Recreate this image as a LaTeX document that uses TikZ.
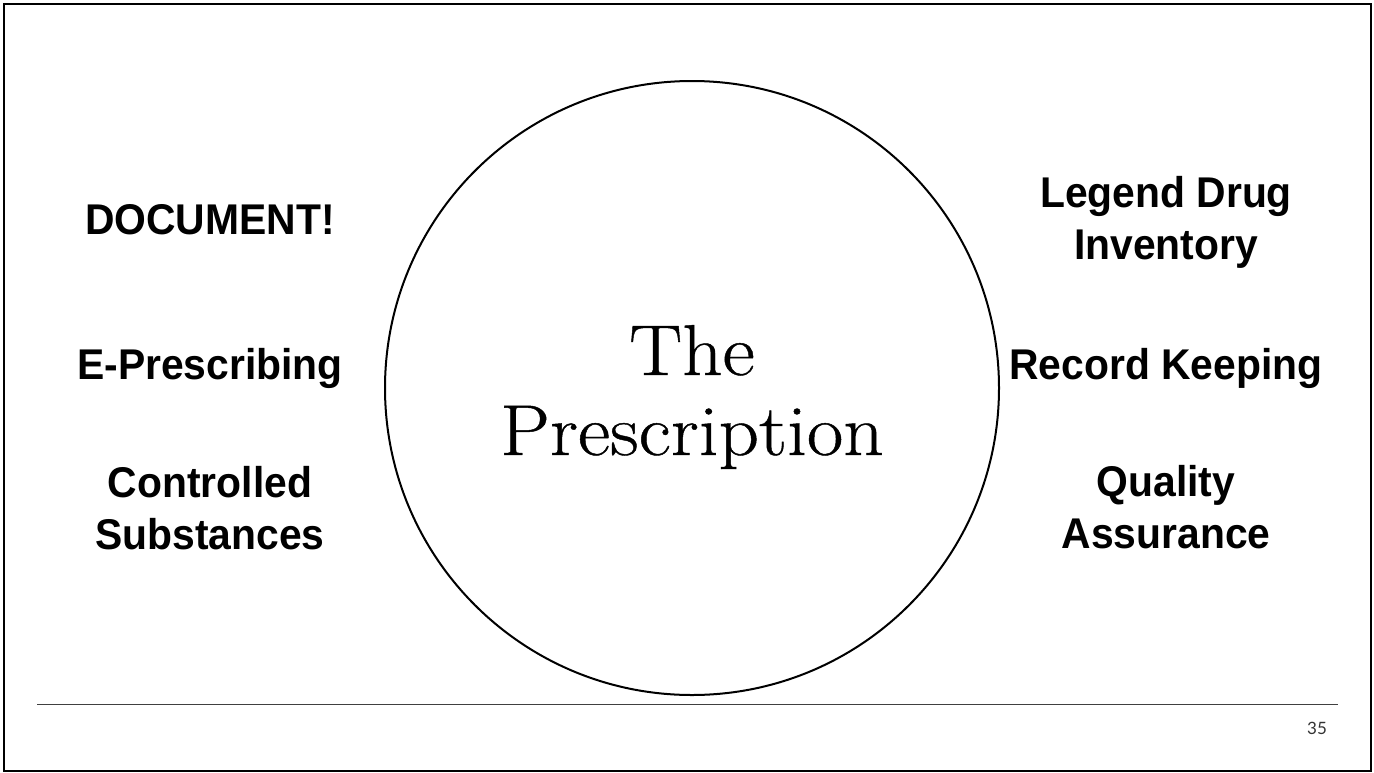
\documentclass[tikz,border=0pt]{standalone}
\usepackage{fontspec}
\newfontfamily\labelfont{Liberation Sans}[FakeStretch=0.95]
\newfontfamily\titlefont{Latin Modern Roman}[FakeStretch=1.1,FakeBold=0.6]
\newfontfamily\pagefont{Lato}
\usetikzlibrary{positioning}

\begin{document}
\begin{tikzpicture}[x=1pt,y=-1pt,every node/.style={align=center,inner sep=0pt},
  topic/.style={font=\labelfont\bfseries\fontsize{43}{52}\selectfont},
  disk/.style={draw,circle,line width=2pt,minimum size=614pt}]
\useasboundingbox (0,0) rectangle (1374,772);
\draw [line width=2.5pt] (4,4) rectangle (1371,771);
\node [disk] (Circle) at (692,388) {};
\node [font=\titlefont\fontsize{72}{80}\selectfont,yshift=-9pt] (Title) at (Circle.center) {The\\Prescription};
\node [topic] (Document) at (210,219.5) {DOCUMENT!};
\node [topic] (EPrescribing) at (210,368) {E-Prescribing};
\node [topic] (Controlled) at (210,508.5) {Controlled\\Substances};
\node [topic] (Inventory) at (1166,222) {Legend Drug\\Inventory};
\node [topic] (RecordKeeping) at (1166,368) {Record Keeping};
\node [topic] (Quality) at (1166,507.5) {Quality\\Assurance};
\draw [line width=1.3pt,black!75] (37,704.5) -- (1338,704.5);
\node [font=\pagefont\fontsize{17}{20}\selectfont,text=black!80] (PageNumber) at (1317,728) {35};
\end{tikzpicture}
\end{document}
